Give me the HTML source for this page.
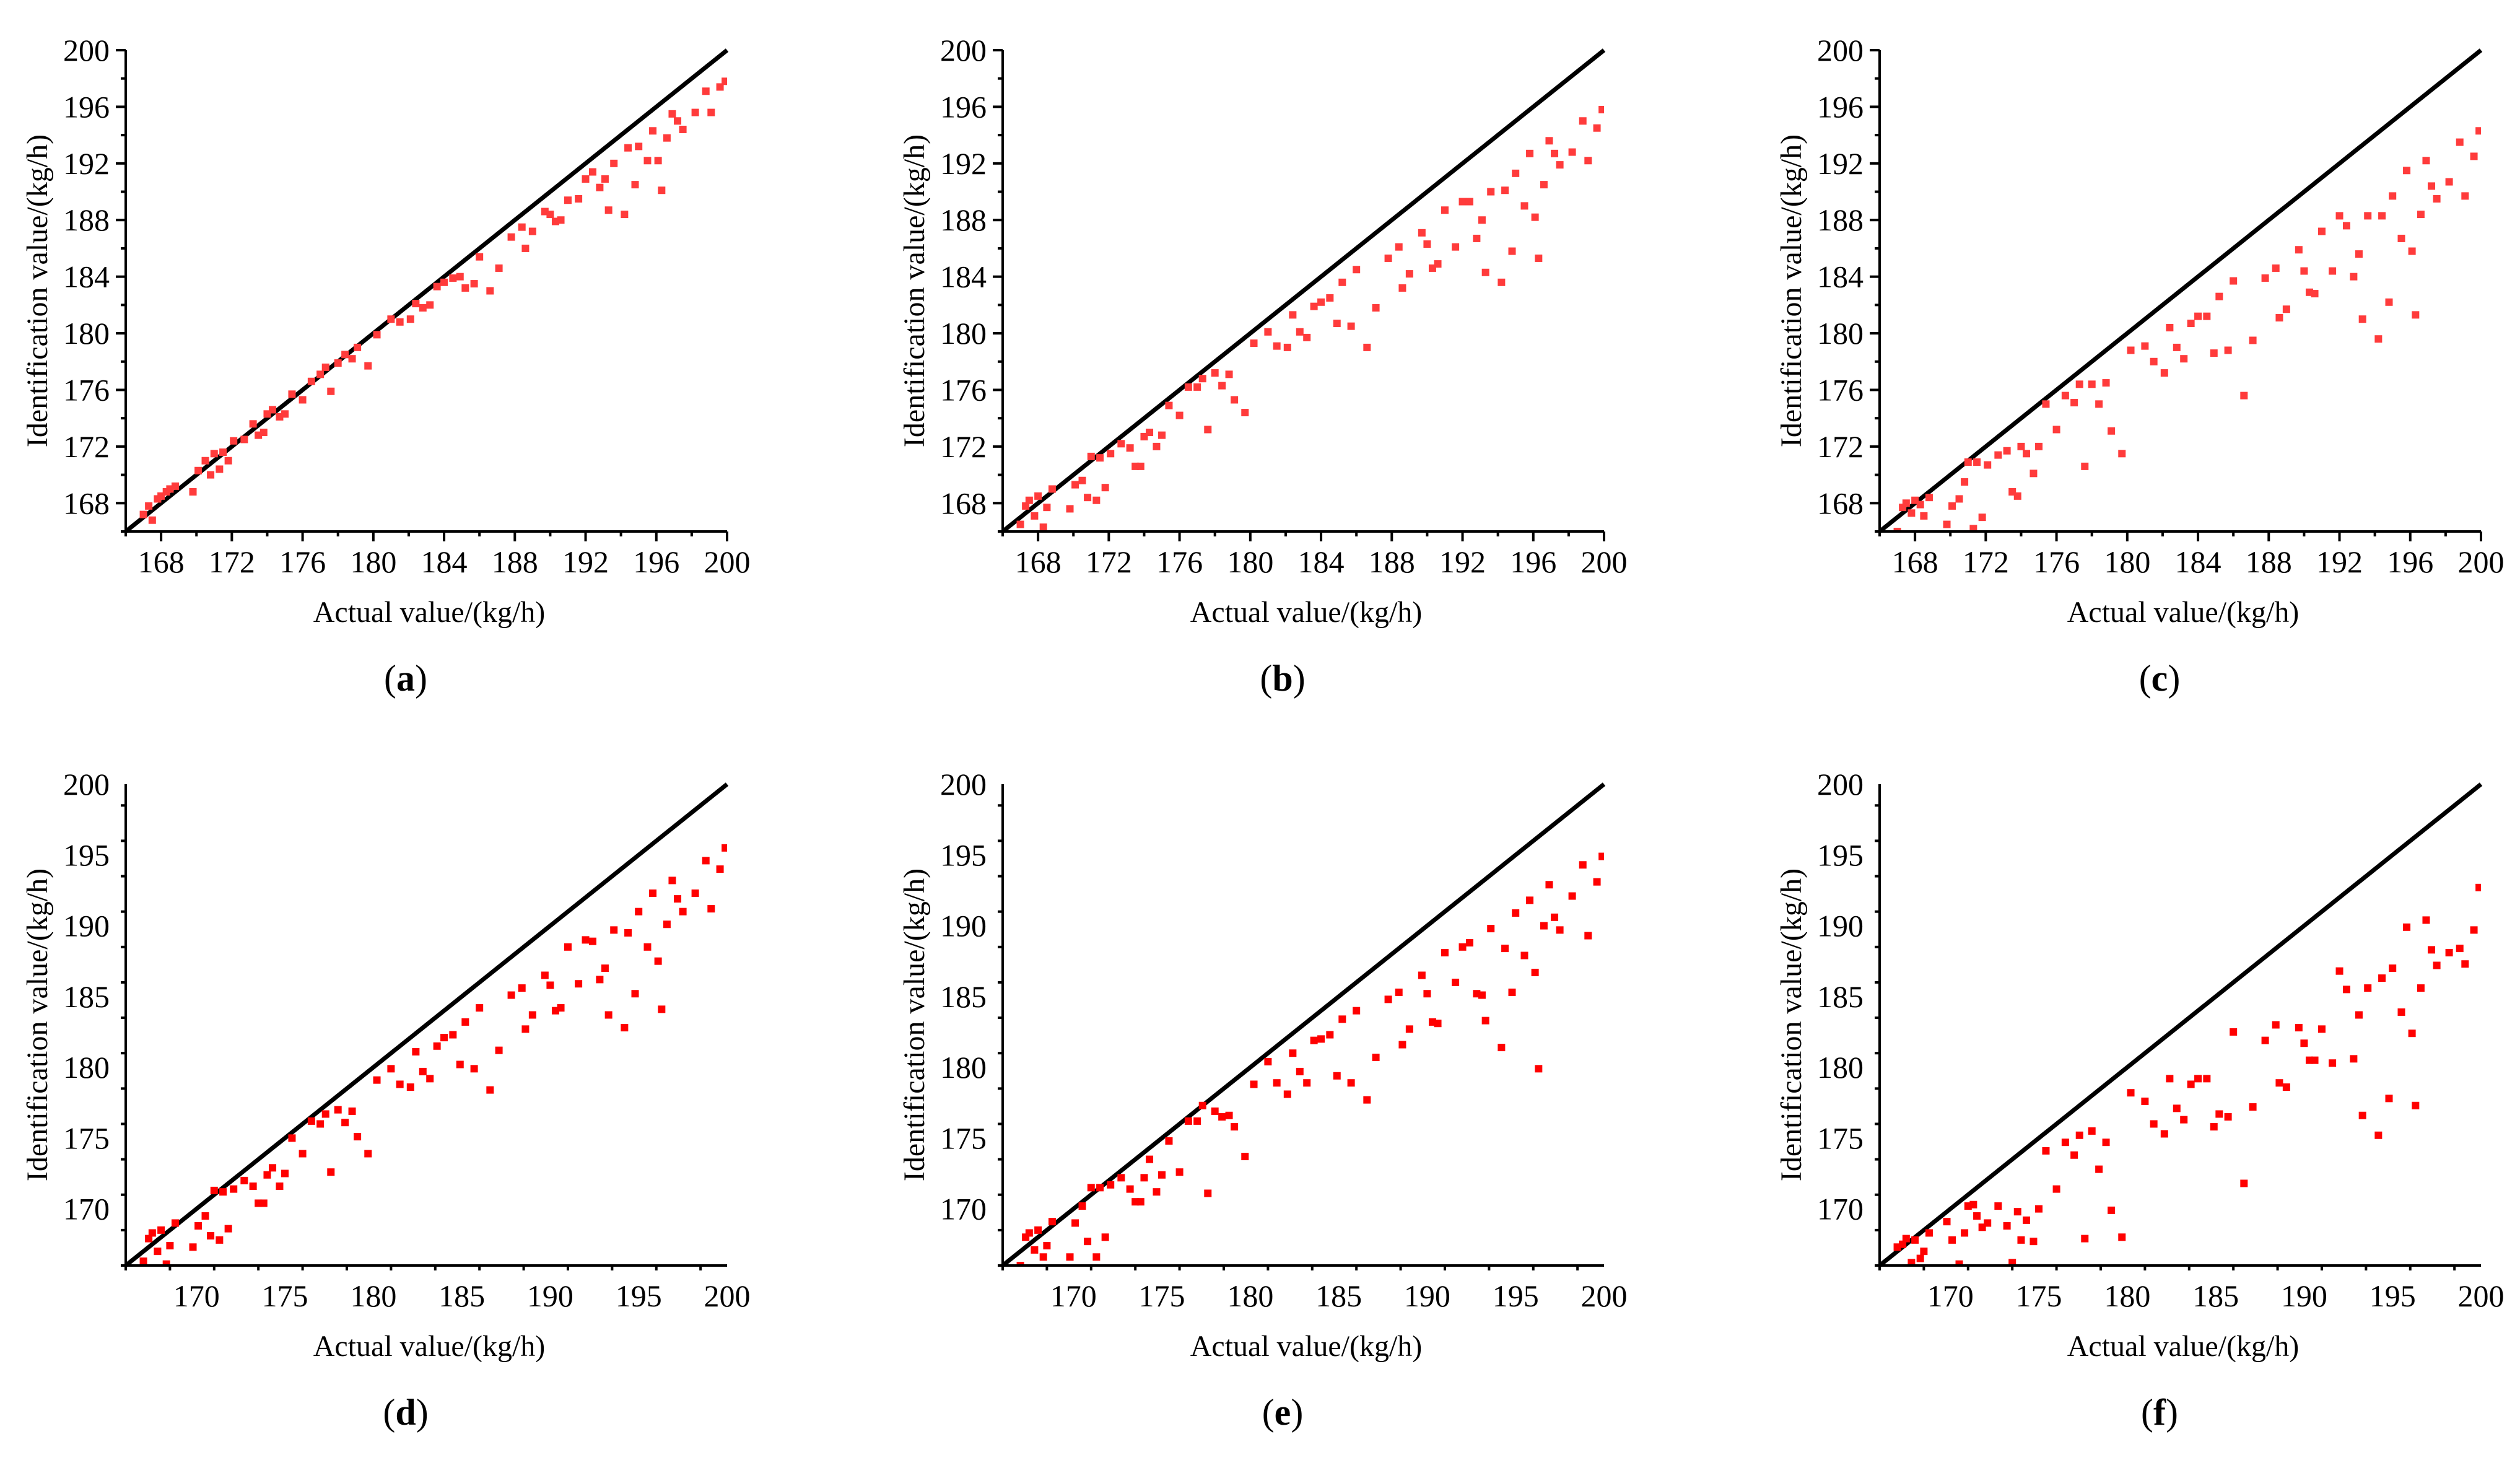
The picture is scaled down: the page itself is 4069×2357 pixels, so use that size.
<!DOCTYPE html>
<html><head><meta charset="utf-8">
<style>
html,body{margin:0;padding:0;background:#fff;}
svg{display:block;font-family:"Liberation Serif","Times New Roman",serif;}
svg text{font-family:"Liberation Serif","Times New Roman",serif;}
</style></head>
<body>
<svg id="fig" width="4069" height="2357" viewBox="0 0 4069 2357" xmlns="http://www.w3.org/2000/svg"></svg>
<script>
const actual = [167.0,167.3,167.5,167.8,168.0,168.3,168.5,168.8,169.8,170.1,170.5,170.8,171.0,171.3,171.5,171.8,172.1,172.7,173.2,173.5,173.8,174.0,174.3,174.7,175.0,175.4,176.0,176.5,177.0,177.3,177.6,178.0,178.4,178.8,179.1,179.7,180.2,181.0,181.5,182.1,182.4,182.8,183.2,183.6,184.0,184.5,184.9,185.2,185.7,186.0,186.6,187.1,187.8,188.4,188.6,189.0,189.7,190.0,190.3,190.6,191.0,191.6,192.0,192.4,192.8,193.1,193.3,193.6,194.2,194.4,194.8,195.0,195.5,195.8,196.1,196.3,196.6,196.9,197.2,197.5,198.2,198.8,199.1,199.6,199.9];
const identA = [167.2,167.8,166.8,168.3,168.5,168.8,169.0,169.2,168.8,170.3,171.0,170.0,171.5,170.4,171.6,171.0,172.4,172.5,173.6,172.8,173.0,174.3,174.6,174.1,174.3,175.7,175.3,176.6,177.1,177.6,175.9,177.9,178.5,178.2,179.0,177.7,179.9,181.0,180.8,181.0,182.1,181.8,182.0,183.3,183.6,183.9,184.0,183.2,183.5,185.4,183.0,184.6,186.8,187.5,186.0,187.2,188.6,188.4,187.9,188.0,189.4,189.5,190.9,191.4,190.3,190.9,188.7,192.0,188.4,193.1,190.5,193.2,192.2,194.3,192.2,190.1,193.8,195.5,195.0,194.4,195.6,197.1,195.6,197.4,197.8];
const identB = [166.5,167.8,168.2,167.1,168.5,166.3,167.7,169.0,167.6,169.3,169.6,168.4,171.3,168.2,171.2,169.1,171.5,172.2,171.9,170.6,170.6,172.7,173.0,172.0,172.8,174.9,174.2,176.2,176.2,176.8,173.2,177.2,176.3,177.1,175.3,174.4,179.3,180.1,179.1,179.0,181.3,180.1,179.7,181.9,182.2,182.5,180.7,183.6,180.5,184.5,179.0,181.8,185.3,186.1,183.2,184.2,187.1,186.3,184.6,184.9,188.7,186.1,189.3,189.3,186.7,188.0,184.3,190.0,183.6,190.1,185.8,191.3,189.0,192.7,188.2,185.3,190.5,193.6,192.7,191.9,192.8,195.0,192.2,194.5,195.8];
const identC = [166.0,167.7,168.0,167.3,168.2,167.9,167.1,168.4,166.5,167.8,168.3,169.5,170.9,166.2,170.9,167.0,170.7,171.4,171.7,168.8,168.5,172.0,171.5,170.1,172.0,175.0,173.2,175.6,175.1,176.4,170.6,176.4,175.0,176.5,173.1,171.5,178.8,179.1,178.0,177.2,180.4,179.0,178.2,180.7,181.2,181.2,178.6,182.6,178.8,183.7,175.6,179.5,183.9,184.6,181.1,181.7,185.9,184.4,182.9,182.8,187.2,184.4,188.3,187.6,184.0,185.6,181.0,188.3,179.6,188.3,182.2,189.7,186.7,191.5,185.8,181.3,188.4,192.2,190.4,189.5,190.7,193.5,189.7,192.5,194.3];
const identD = [166.3,167.9,168.3,167.0,168.5,166.1,167.4,169.0,167.3,168.8,169.5,168.1,171.3,167.8,171.2,168.6,171.4,172.0,171.6,170.4,170.4,172.4,172.9,171.6,172.5,175.0,173.9,176.2,176.0,176.7,172.6,177.0,176.1,176.9,175.1,173.9,179.1,179.9,178.8,178.6,181.1,179.7,179.2,181.5,182.1,182.3,180.2,183.2,179.9,184.2,178.4,181.2,185.1,185.6,182.7,183.7,186.5,185.8,184.0,184.2,188.5,185.9,189.0,188.9,186.2,187.0,183.7,189.7,182.8,189.5,185.2,191.0,188.5,192.3,187.5,184.1,190.1,193.2,191.9,191.0,192.3,194.6,191.2,194.0,195.5];
const identE = [166.0,168.0,168.3,167.1,168.5,166.6,167.4,169.1,166.6,169.0,170.2,167.7,171.5,166.6,171.5,168.0,171.7,172.2,171.4,170.5,170.5,172.2,173.5,171.2,172.4,174.8,172.6,176.2,176.2,177.3,171.1,176.9,176.5,176.6,175.8,173.7,178.8,180.4,178.9,178.1,181.0,179.7,178.9,181.9,182.0,182.3,179.4,183.4,178.9,184.0,177.7,180.7,184.8,185.3,181.6,182.7,186.5,185.2,183.2,183.1,188.1,186.0,188.5,188.8,185.2,185.1,183.3,189.8,181.4,188.4,185.3,190.9,187.9,191.8,186.7,179.9,190.0,192.9,190.6,189.7,192.1,194.3,189.3,193.1,194.9];
const identF = [167.3,167.5,167.9,166.2,167.8,166.5,167.0,168.3,169.1,167.8,166.1,168.3,170.2,170.3,169.5,168.7,169.0,170.2,168.8,166.2,169.8,167.8,169.2,167.7,170.0,174.1,171.4,174.7,173.8,175.2,167.9,175.5,172.8,174.7,169.9,168.0,178.2,177.6,176.0,175.3,179.2,177.1,176.3,178.8,179.2,179.2,175.8,176.7,176.5,182.5,171.8,177.2,181.9,183.0,178.9,178.6,182.8,181.7,180.5,180.5,182.7,180.3,186.8,185.5,180.6,183.7,176.6,185.6,175.2,186.3,177.8,187.0,183.9,189.9,182.4,177.3,185.6,190.4,188.3,187.2,188.1,188.4,187.3,189.7,192.7];
const ticksRow1 = [168,172,176,180,184,188,192,196,200];
const ticksRow2 = [170,175,180,185,190,195,200];
const panelLabels = ["a","b","c","d","e","f"];

const NS = "http://www.w3.org/2000/svg";
const svg = document.getElementById("fig");
function mk(tag, attrs, parent){
  const e = document.createElementNS(NS, tag);
  for (const k in attrs) e.setAttribute(k, attrs[k]);
  (parent||svg).appendChild(e);
  return e;
}
const colLeft = [203, 1619, 3035];
const rowTop = [81, 1266];
const W = 971, H = 777;
const series = [identA, identB, identC, identD, identE, identF];

for (let p = 0; p < 6; p++) {
  const r = Math.floor(p/3), c = p%3;
  const x0 = colLeft[c], y0 = rowTop[r];
  const ticks = r === 0 ? ticksRow1 : ticksRow2;
  const minorStep = r === 0 ? 2 : 2.5;
  const color = r === 0 ? "#ff3b3b" : "#ff0000";
  const sx = v => x0 + (v - 166) / 34 * W;
  const sy = v => y0 + H - (v - 166) / 34 * H;
  const g = mk("g", {});
  
  
  const cp = mk("clipPath", {id: "clip" + p}, g);
  mk("rect", {x: x0, y: y0, width: W, height: H}, cp);
  const diag = mk("line", {x1: sx(166), y1: sy(166), x2: sx(200), y2: sy(200), stroke: "#000", "stroke-width": 7}, g);
  
  
  const pts = mk("g", {"clip-path": "url(#clip" + p + ")"}, g);
  
  
  const ys = series[p];
  for (let i = 0; i < actual.length; i++) {
    const pt = mk("rect", {x: sx(actual[i]) - 6, y: sy(ys[i]) - 6, width: 12, height: 12, fill: color}, pts);
    
    
  }
  const ax = mk("path", {d: `M${x0} ${y0} V${y0+H} H${x0+W}`, fill: "none", stroke: "#000", "stroke-width": 4}, g);
  
  
  for (let v = 166; v <= 200.001; v += minorStep) {
    const isMajor = ticks.some(t => Math.abs(t - v) < 0.01);
    const len = isMajor ? 16 : 8;
    mk("line", {x1: sx(v), y1: y0+H, x2: sx(v), y2: y0+H+len, stroke: "#000", "stroke-width": 4}, g);
    mk("line", {x1: x0, y1: sy(v), x2: x0-len, y2: sy(v), stroke: "#000", "stroke-width": 4}, g);
  }
  for (const t of ticks) {
    const tx = mk("text", {x: sx(t), y: y0+H+66, "font-size": 50, "text-anchor": "middle", fill: "#000"}, g);
    tx.textContent = t;
    
    
    const ty = mk("text", {x: x0-26, y: sy(t)+17, "font-size": 50, "text-anchor": "end", fill: "#000"}, g);
    ty.textContent = t;
    
    
  }
  const xt = mk("text", {x: x0 + 490, y: y0+H+146, "font-size": 48, "text-anchor": "middle", fill: "#000"}, g);
  xt.textContent = "Actual value/(kg/h)";
  
  
  const yx = x0 - 127, yy = y0 + H/2;
  const yt = mk("text", {x: yx, y: yy, "font-size": 48, "text-anchor": "middle", fill: "#000", transform: `rotate(-90 ${yx} ${yy})`}, g);
  yt.textContent = "Identification value/(kg/h)";
  
  
  const pl = mk("text", {x: x0 + 452, y: y0+H+257, "font-size": 60, "text-anchor": "middle", fill: "#000"}, g);
  pl.innerHTML = '(<tspan font-weight="bold">' + panelLabels[p] + '</tspan>)';
  
  
}
</script>
</body></html>
